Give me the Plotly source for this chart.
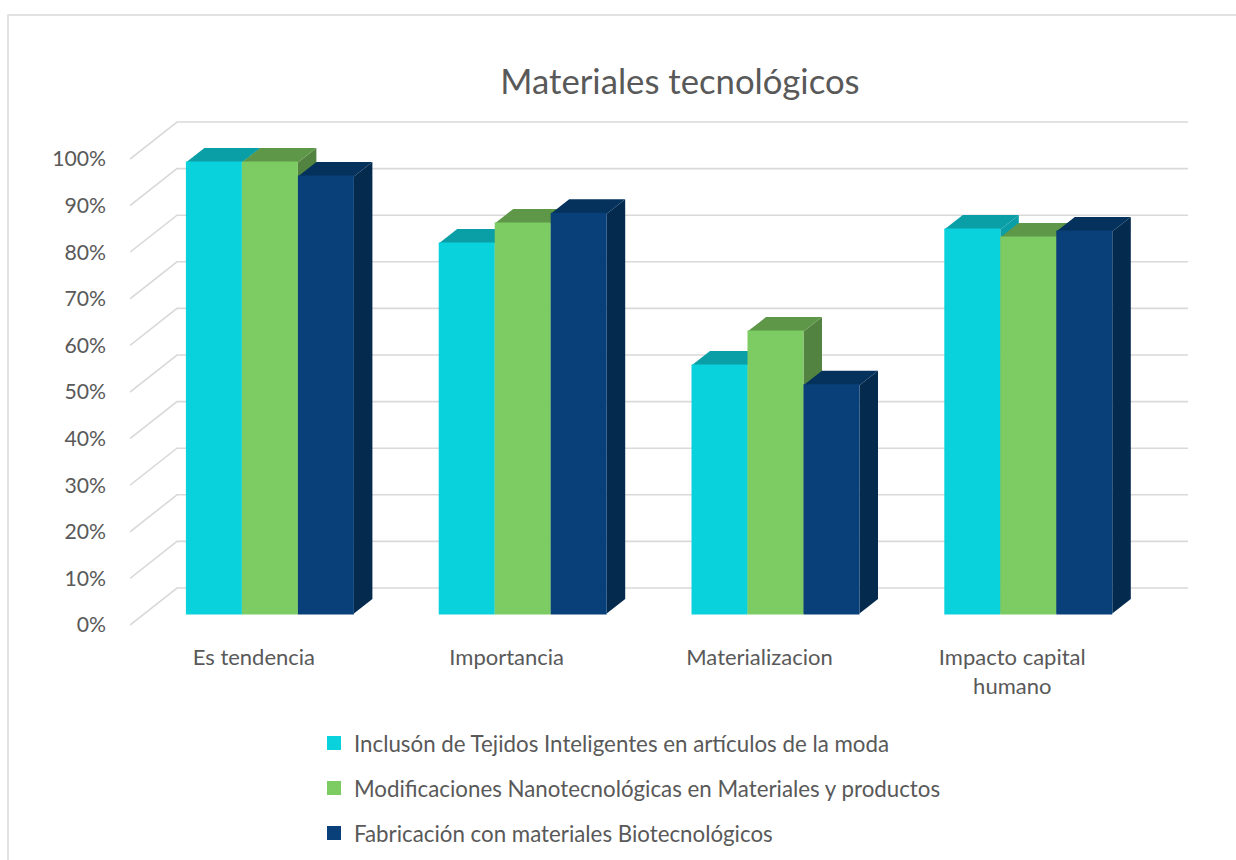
import plotly.graph_objects as go

W, H = 1236, 860
categories = ["Es tendencia", "Importancia", "Materializacion", "Impacto capital<br>humano"]
series_names = [
    "Inclusón de Tejidos Inteligentes en artículos de la moda",
    "Modificaciones Nanotecnológicas en Materiales y productos",
    "Fabricación con materiales Biotecnológicos",
]
tejidos = [96.8, 79.4, 53.2, 82.4]
nano = [96.8, 83.7, 60.5, 80.7]
biotec = [93.8, 85.8, 49.0, 82.0]
series_values = [tejidos, nano, biotec]
front_colors = ["#0AD2DC", "#7CCB63", "#094079"]
top_colors = ["#0A9EA6", "#5F9749", "#05325C"]
side_colors = ["#0A9EA6", "#528340", "#042A4E"]
y_ticks = list(range(0, 101, 10))

# pixel geometry expressed as axis units
L, R, T, B = 130, 1188, 100, 642
PX_X = 252.8           # px per category
PX_Y = 4.66            # px per percent
Y0 = 625.0             # px of 0% on the front plane
xr = [0, (R - L) / PX_X]
yr = [(Y0 - B) / PX_Y, (Y0 - T) / PX_Y]
WALL_DX, WALL_DY = 47 / PX_X, 37 / PX_Y
BAR_W = 56.0 / PX_X
EDGE = 2.0             # bar outline width in px, same colour as the bar
BAR_C = 0.5534
BAR_BASE = 11.5 / PX_Y
DX, DY = 18.5 / PX_X, 14.5 / PX_Y

fig = go.Figure()
GRID = "#D9D9D9"

# walls
gx, gy = [], []
for v in y_ticks:
    gx += [0, WALL_DX, xr[1], None]
    gy += [v, v + WALL_DY, v + WALL_DY, None]
fig.add_trace(go.Scatter(x=gx, y=gy, mode="lines", line=dict(color=GRID, width=1.6),
                         showlegend=False, hoverinfo="skip", xaxis="x", yaxis="y"))

# tops and sides, left to right
for i in range(len(categories)):
    for j, vals in enumerate(series_values):
        x0 = i + BAR_C + (j - 1.5) * BAR_W
        x1 = x0 + BAR_W
        top = BAR_BASE + vals[i]
        fig.add_trace(go.Scatter(
            x=[x1, x1 + DX, x1 + DX, x1, x1], y=[BAR_BASE, BAR_BASE + DY, top + DY, top, BAR_BASE],
            mode="none", fill="toself", fillcolor=side_colors[j],
            showlegend=False, hoverinfo="skip", xaxis="x", yaxis="y"))
        fig.add_trace(go.Scatter(
            x=[x0, x0 + DX, x1 + DX, x1, x0], y=[top, top + DY, top + DY, top, top],
            mode="none", fill="toself", fillcolor=top_colors[j],
            showlegend=False, hoverinfo="skip", xaxis="x", yaxis="y"))

# fronts on an overlaying pair of axes so they sit above everything
for j, (name, vals) in enumerate(zip(series_names, series_values)):
    fig.add_trace(go.Bar(
        x=[i + BAR_C + (j - 1) * BAR_W for i in range(len(categories))],
        y=vals, base=BAR_BASE, width=BAR_W - EDGE / PX_X, name=name,
        marker=dict(color=front_colors[j], line=dict(width=EDGE, color=front_colors[j])),
        legendgroup=f"g{j}", xaxis="x2", yaxis="y2"))

FONT = "Lato"
TXT = "#595959"
fig.update_layout(
    width=W, height=H, autosize=False,
    margin=dict(l=0, r=0, t=0, b=0, pad=0),
    paper_bgcolor="white", plot_bgcolor="rgba(0,0,0,0)",
    barmode="overlay",
    font=dict(family=FONT, color=TXT, size=21),
    title=dict(text="Materiales tecnológicos", x=680 / W, xanchor="center",
               y=1 - 82 / H, yanchor="middle", font=dict(size=34.7, color=TXT, family=FONT)),
    xaxis=dict(domain=[L / W, R / W], range=xr, tickmode="array",
               tickvals=[i + 0.49 for i in range(len(categories))], ticktext=categories,
               showgrid=False, zeroline=False, showline=False, ticks="",
               tickfont=dict(size=22, color=TXT, family=FONT), anchor="y"),
    yaxis=dict(domain=[1 - B / H, 1 - T / H], range=yr, tickmode="array",
               tickvals=y_ticks, ticktext=[f"{v}%" for v in y_ticks],
               showgrid=False, zeroline=False, showline=False, ticks="",
               ticklabelstandoff=23, tickfont=dict(size=21.2, color=TXT, family=FONT), anchor="x"),
    xaxis2=dict(domain=[L / W, R / W], range=xr, overlaying="x", visible=False, anchor="y2"),
    yaxis2=dict(domain=[1 - B / H, 1 - T / H], range=yr, overlaying="y", visible=False, anchor="x2"),
    legend=dict(x=314 / W, xanchor="left", y=1 - 722 / H, yanchor="top", orientation="v",
                traceorder="grouped", tracegroupgap=13, itemwidth=30,
                font=dict(size=22.3, color=TXT, family=FONT), bgcolor="rgba(0,0,0,0)"),
    shapes=[dict(type="path", xref="paper", yref="paper", layer="below",
                 path=f"M {8/W},0 L {8/W},{1-15/H} L 1,{1-15/H}",
                 line=dict(color="#D9D9D9", width=1.5))],
)
fig.write_html("out.html", config={"displayModeBar": False},
               post_script="document.body.style.margin='0';document.body.style.overflow='hidden';")
